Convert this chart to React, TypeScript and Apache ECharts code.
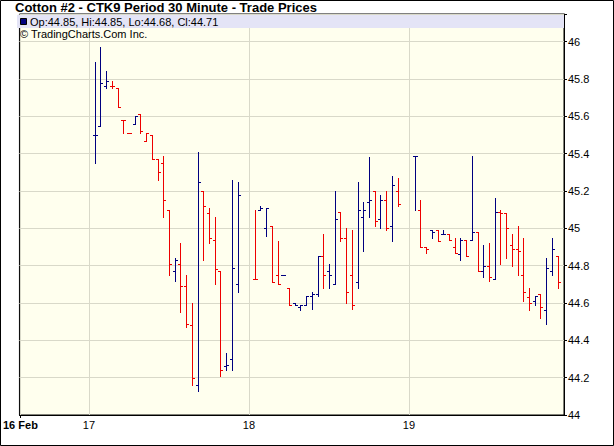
import React, { useEffect, useRef } from 'react';
import * as echarts from 'echarts';

// Session labels (first is the partial start day, drawn bold)
const dayLabels = ['16 Feb', '17', '18', '19'];
const BARS_PER_DAY = 26;
const SLOTS_PER_DAY = 28;
const FIRST_LABEL_SLOT = -12;

// 30-minute OHLC bars, days 17, 18, 19 (26 bars each)
const opens = [
  45.50, 45.55, 45.76, 45.76, 45.75, 45.58, 45.51, 45.56, 45.61, 45.47, 45.50, 45.37, 45.35,
  45.10, 44.77, 44.81, 44.69, 44.48, 44.16, 45.20, 45.08, 44.94, 44.77, 44.26, 44.30, 44.70,
  44.73, 45.10, 45.00, 45.01, 44.75, 44.75, 44.68, 44.60, 44.58, 44.59, 44.64, 44.65, 44.85,
  44.77, 44.70, 45.09, 44.95, 44.75, 44.71, 45.06, 45.14, 45.20, 45.05, 45.15, 45.01, 45.20,
  45.39, 45.10, 44.90, 44.99, 44.99, 44.97, 44.97, 44.90, 44.86, 44.94, 44.94, 44.98, 44.77,
  44.80, 44.73, 45.09, 45.08, 44.91, 44.89, 44.75, 44.63, 44.61, 44.65, 44.56, 44.77, 44.85,
];
const highs = [
  45.89, 45.97, 45.84, 45.79, 45.75, 45.58, 45.51, 45.60, 45.61, 45.51, 45.50, 45.37, 45.39,
  45.10, 44.84, 44.92, 44.75, 44.60, 45.41, 45.20, 45.11, 45.06, 44.77, 44.33, 45.26, 45.25,
  45.10, 45.12, 45.11, 45.01, 44.93, 44.75, 44.68, 44.60, 44.59, 44.64, 44.66, 44.85, 44.97,
  44.81, 45.20, 45.09, 45.00, 44.99, 45.25, 45.14, 45.38, 45.20, 45.18, 45.20, 45.28, 45.27,
  45.39, 45.15, 44.90, 44.99, 44.99, 44.99, 44.97, 44.95, 44.95, 44.94, 45.39, 44.98, 44.91,
  44.92, 45.16, 45.10, 45.08, 44.97, 45.01, 44.95, 44.68, 44.64, 44.65, 44.84, 44.95, 44.85,
];
const lows = [
  45.35, 45.55, 45.75, 45.75, 45.65, 45.51, 45.51, 45.56, 45.51, 45.47, 45.37, 45.26, 45.06,
  44.75, 44.72, 44.55, 44.47, 44.16, 44.13, 44.83, 44.92, 44.70, 44.21, 44.24, 44.24, 44.66,
  44.73, 45.10, 44.96, 44.71, 44.70, 44.75, 44.59, 44.59, 44.56, 44.59, 44.57, 44.64, 44.68,
  44.68, 44.70, 44.93, 44.60, 44.57, 44.68, 44.88, 45.06, 45.01, 45.00, 44.99, 44.93, 45.12,
  45.10, 44.90, 44.87, 44.95, 44.93, 44.97, 44.94, 44.87, 44.83, 44.85, 44.94, 44.77, 44.74,
  44.72, 44.73, 44.81, 44.84, 44.80, 44.75, 44.61, 44.56, 44.59, 44.52, 44.49, 44.75, 44.68,
];
const closes = [
  45.50, 45.78, 45.79, 45.76, 45.65, 45.58, 45.51, 45.60, 45.52, 45.51, 45.37, 45.30, 45.15,
  44.81, 44.83, 44.69, 44.49, 44.20, 45.25, 45.12, 44.95, 44.78, 44.24, 44.27, 44.79, 45.18,
  44.73, 45.11, 45.11, 44.71, 44.70, 44.75, 44.59, 44.59, 44.59, 44.64, 44.65, 44.85, 44.75,
  44.75, 45.05, 44.95, 44.66, 44.59, 45.10, 45.10, 45.15, 45.04, 45.15, 45.00, 45.23, 45.13,
  45.39, 44.90, 44.89, 44.98, 44.93, 44.97, 44.94, 44.87, 44.94, 44.85, 44.98, 44.77, 44.80,
  44.74, 45.09, 45.08, 45.00, 44.89, 44.88, 44.66, 44.60, 44.64, 44.58, 44.79, 44.89, 44.71,
];

const NAVY = '#000080';
const RED = '#ee0000';
const GRIDC = '#d9d9c9';
const FONT = '"Liberation Sans", Arial, Helvetica, sans-serif';

export default function App() {
  const ref = useRef<HTMLDivElement>(null);

  useEffect(() => {
    if (!ref.current) return;
    const chart = echarts.init(ref.current, undefined, { renderer: 'svg' });

    // axis positions (in bar slots) of the day labels
    const dayPos = dayLabels.map((_, i) => (i === 0 ? FIRST_LABEL_SLOT : (i - 1) * SLOTS_PER_DAY));
    const labelMap: Record<number, string> = {};
    dayPos.forEach((p, i) => (labelMap[p] = dayLabels[i]));

    const data = opens.map((o, i) => {
      const day = Math.floor(i / BARS_PER_DAY);
      const slot = day * SLOTS_PER_DAY + 1 + (i % BARS_PER_DAY);
      const up = i === 0 || closes[i] >= closes[i - 1] ? 1 : 0;
      return [slot, o, highs[i], lows[i], closes[i], up];
    });

    const n = opens.length - 1;
    const legendText = `Op:${opens[n].toFixed(2)}, Hi:${highs[n].toFixed(2)}, Lo:${lows[n].toFixed(2)}, Cl:${closes[n].toFixed(2)}`;

    const xMin = -12.17;
    const xMax = 83.13;

    chart.setOption({
      animation: false,
      backgroundColor: '#ffffff',
      textStyle: { fontFamily: FONT },
      grid: {
        left: 16,
        right: 50,
        top: 14,
        bottom: 31,
        show: true,
        backgroundColor: '#ffffee',
        borderColor: '#000',
        borderWidth: 1,
        containLabel: false,
      },
      xAxis: [
        {
          type: 'value',
          min: xMin,
          max: xMax,
          position: 'bottom',
          axisLine: { show: true, onZero: false, lineStyle: { color: '#000', width: 1 } },
          axisTick: { show: false, customValues: dayPos },
          axisLabel: {
            customValues: dayPos,
            margin: 4,
            color: '#000',
            fontSize: 11,
            fontFamily: FONT,
            showMinLabel: true,
            formatter: (v: number) => {
              const k = Math.round(v);
              const s = labelMap[k] ?? '';
              return k === dayPos[0] ? `{b|${s}}` : s;
            },
            rich: { b: { fontWeight: 'bold', fontSize: 11, fontFamily: FONT, color: '#000' } },
          },
          splitLine: { show: true, lineStyle: { color: GRIDC, width: 1 } },
        },
        {
          type: 'value',
          min: xMin,
          max: xMax,
          position: 'bottom',
          axisLine: { show: false, onZero: false },
          axisTick: { show: true, length: 3, customValues: [dayPos[0]], lineStyle: { color: '#000' } },
          axisLabel: { show: false },
          splitLine: { show: false },
        },
      ],
      yAxis: {
        type: 'value',
        position: 'right',
        min: 44,
        max: 46.148,
        interval: 0.2,
        axisLine: { show: true, onZero: false, lineStyle: { color: '#000', width: 1 } },
        axisTick: { show: true, length: 3, lineStyle: { color: '#000' } },
        axisLabel: {
          margin: 4,
          color: '#000',
          fontSize: 11,
          fontFamily: FONT,
          formatter: (v: number) =>
            Math.abs(v * 5 - Math.round(v * 5)) < 1e-6 ? String(parseFloat(v.toFixed(1))) : '',
        },
        splitLine: { show: true, lineStyle: { color: GRIDC, width: 1 } },
      },
      series: [
        {
          type: 'custom',
          xAxisIndex: 0,
          yAxisIndex: 0,
          encode: { x: 0, y: [2, 3] },
          data,
          renderItem: (params: any, api: any) => {
            const x = api.value(0);
            const pO = api.coord([x, api.value(1)]);
            const pH = api.coord([x, api.value(2)]);
            const pL = api.coord([x, api.value(3)]);
            const pC = api.coord([x, api.value(4)]);
            const color = api.value(5) === 1 ? NAVY : RED;
            const X = Math.round(pH[0]);
            const cx = X + 0.5;
            const yH = Math.round(pH[1]);
            const yL = Math.round(pL[1]);
            const yO = Math.round(pO[1]) + 0.5;
            const yC = Math.round(pC[1]) + 0.5;
            const style = { stroke: color, lineWidth: 1 };
            return {
              type: 'group',
              children: [
                { type: 'line', shape: { x1: cx, y1: yH, x2: cx, y2: yL + 1 }, style },
                { type: 'line', shape: { x1: X - 2, y1: yO, x2: X + 1, y2: yO }, style },
                { type: 'line', shape: { x1: X, y1: yC, x2: X + 3, y2: yC }, style },
              ],
            };
          },
        },
      ],
      graphic: [
        {
          type: 'rect',
          z: 10,
          shape: { x: 17, y: 15, width: 547, height: 13 },
          style: { fill: '#e4e4f6' },
        },
        {
          type: 'rect',
          z: 11,
          shape: { x: 20.5, y: 18.5, width: 6, height: 6 },
          style: { fill: NAVY, stroke: '#000', lineWidth: 1 },
        },
        {
          type: 'text',
          z: 11,
          x: 30,
          y: 21.5,
          style: {
            text: legendText,
            font: `11px ${FONT}`,
            fill: '#000',
            textVerticalAlign: 'middle',
          },
        },
        {
          type: 'text',
          z: 11,
          x: 20,
          y: 34,
          style: {
            text: '© TradingCharts.Com Inc.',
            font: `11px ${FONT}`,
            fill: '#000',
            textVerticalAlign: 'middle',
          },
        },
        {
          type: 'text',
          z: 11,
          x: 15,
          y: 7.5,
          style: {
            text: 'Cotton #2 - CTK9 Period 30 Minute - Trade Prices',
            font: `bold 13px ${FONT}`,
            fill: '#000',
            textVerticalAlign: 'middle',
          },
        },
        {
          type: 'rect',
          z: 12,
          shape: { x: 0.5, y: 0.5, width: 613, height: 445 },
          style: { fill: 'none', stroke: '#000', lineWidth: 1 },
        },
      ],
    });

    return () => chart.dispose();
  }, []);

  return (
    <div
      ref={ref}
      style={{ position: 'absolute', left: 0, top: 0, width: 614, height: 446 }}
    />
  );
}
